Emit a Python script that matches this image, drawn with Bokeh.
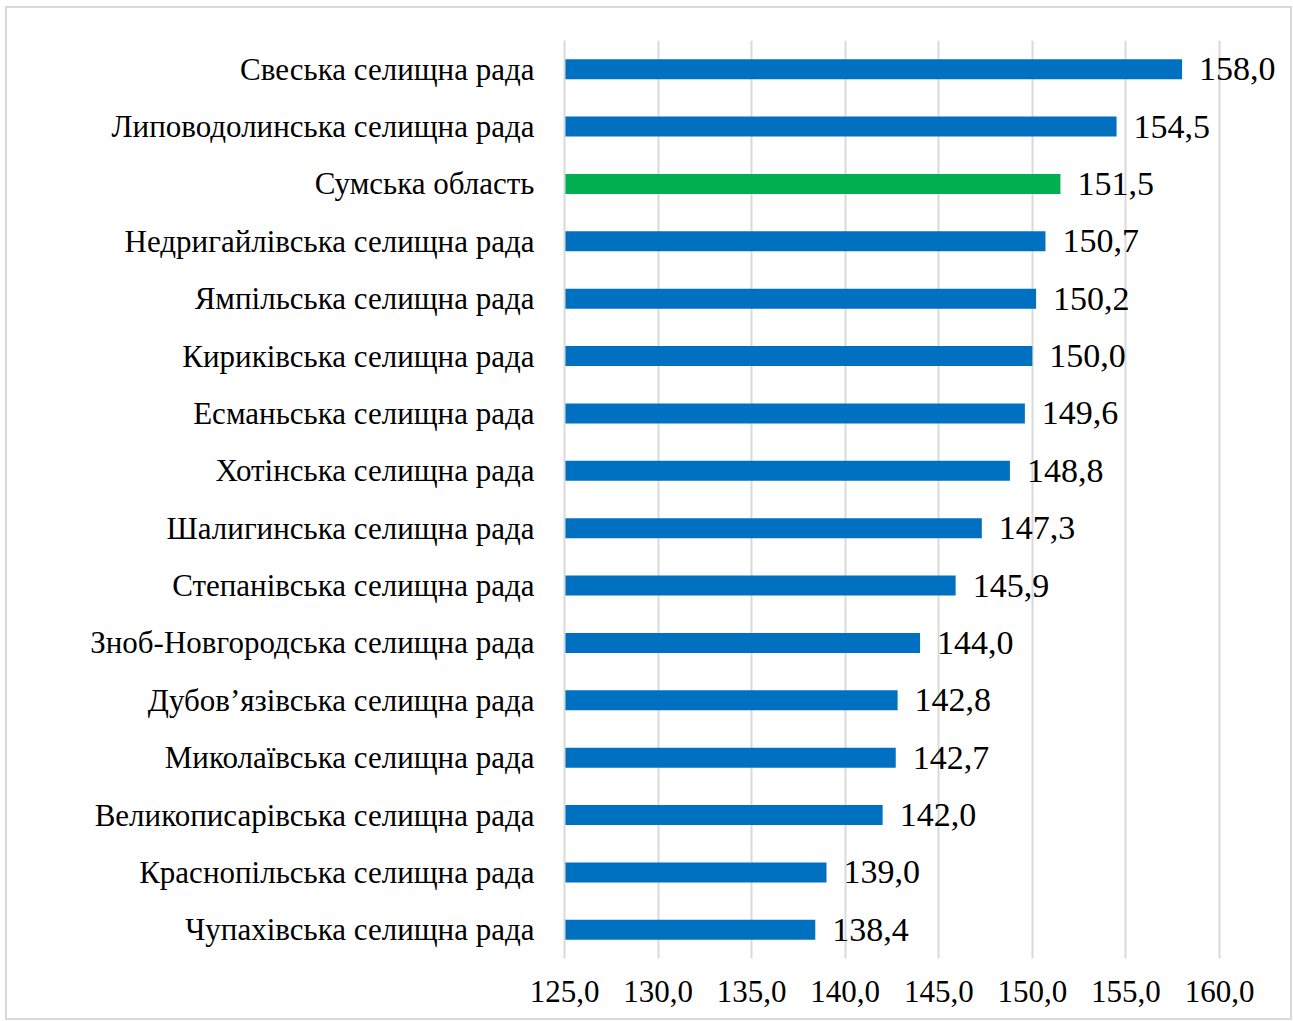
from bokeh.plotting import figure
from bokeh.models import ColumnDataSource, Range1d, FactorRange, FixedTicker
from bokeh.core.properties import value
from bokeh.embed import file_html
from bokeh.resources import INLINE

categories = [
    "Свеська селищна рада",
    "Липоводолинська селищна рада",
    "Сумська область",
    "Недригайлівська селищна рада",
    "Ямпільська селищна рада",
    "Кириківська селищна рада",
    "Есманьська селищна рада",
    "Хотінська селищна рада",
    "Шалигинська селищна рада",
    "Степанівська селищна рада",
    "Зноб-Новгородська селищна рада",
    "Дубов’язівська селищна рада",
    "Миколаївська селищна рада",
    "Великописарівська селищна рада",
    "Краснопільська селищна рада",
    "Чупахівська селищна рада",
]
values = [158.0, 154.5, 151.5, 150.7, 150.2, 150.0, 149.6, 148.8, 147.3, 145.9,
          144.0, 142.8, 142.7, 142.0, 139.0, 138.4]
highlight = "Сумська область"
tick_values = [125, 130, 135, 140, 145, 150, 155, 160]
tick_labels = ["125,0", "130,0", "135,0", "140,0", "145,0", "150,0", "155,0", "160,0"]

BLUE = "#0070C0"
GREEN = "#00B050"
FONT = "Liberation Serif"

W, H = 1283, 1010
LEFT, RIGHT, TOP, BOTTOM = 557, 2, 32, 60
frame_w = W - LEFT - RIGHT
x_start, x_axis_end = tick_values[0], tick_values[-1]
x_end = x_start + frame_w * (x_axis_end - x_start) / 655.0

colors = [GREEN if c == highlight else BLUE for c in categories]
labels = [f"{v:.1f}".replace(".", ",") for v in values]
src = ColumnDataSource(dict(cat=categories, val=values, left=[x_start] * len(values),
                            color=colors, lab=labels))

p = figure(width=W, height=H, output_backend="svg", toolbar_location=None,
           y_range=FactorRange(factors=list(reversed(categories))),
           x_range=Range1d(x_start, x_end))
p.min_border_left = LEFT
p.min_border_right = RIGHT
p.min_border_top = TOP
p.min_border_bottom = BOTTOM
p.outline_line_color = None
p.background_fill_color = "white"
p.border_fill_color = "white"

p.hbar(y="cat", left="left", right="val", height=0.35, color="color", line_color=None, source=src)
p.text(x="val", y="cat", text="lab", source=src, x_offset=17, text_align="left",
       text_baseline="middle", text_font=value(FONT), text_font_size="34px", text_color="#000000")

p.xaxis.ticker = FixedTicker(ticks=tick_values)
p.xaxis.major_label_overrides = {t: l for t, l in zip(tick_values, tick_labels)}
p.xaxis.axis_line_color = None
p.xaxis.major_tick_line_color = None
p.xaxis.minor_tick_line_color = None
p.xaxis.major_label_text_font = FONT
p.xaxis.major_label_text_font_size = "31px"
p.xaxis.major_label_text_color = "#000000"
p.xaxis.major_label_standoff = 16

p.yaxis.axis_line_color = "#d9d9d9"
p.yaxis.axis_line_width = 2
p.yaxis.major_tick_line_color = None
p.yaxis.minor_tick_line_color = None
p.yaxis.major_label_text_font = FONT
p.yaxis.major_label_text_font_size = "31px"
p.yaxis.major_label_text_color = "#000000"
p.yaxis.major_label_standoff = 24

p.xgrid.grid_line_color = "#d9d9d9"
p.xgrid.grid_line_width = 2
p.ygrid.grid_line_color = None

p.styles = {"margin-left": "7px", "margin-top": "8px", "outline": "2px solid #d9d9d9"}

open("out.html", "w").write(file_html(p, INLINE))
